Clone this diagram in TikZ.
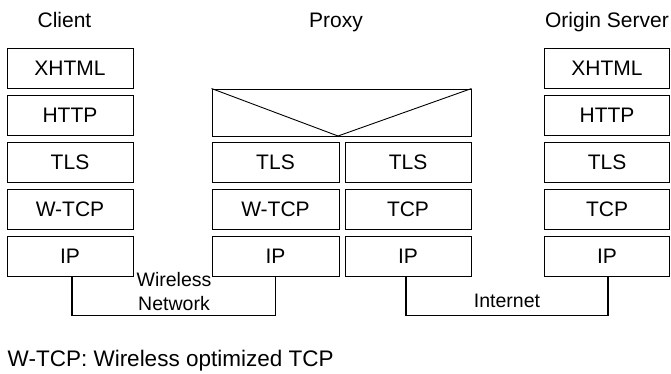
\documentclass[tikz,border=0pt]{standalone}
\usepackage{fontspec}
\setmainfont{Liberation Sans}
\usetikzlibrary{positioning,calc}

\begin{document}
\begin{tikzpicture}[x=1pt,y=-1pt,
    layer/.style={draw, line width=0.9pt, minimum height=40pt, inner sep=0pt,
        font=\fontsize{21}{24}\selectfont},
    title/.style={font=\fontsize{21}{24}\selectfont, anchor=base},
    netlabel/.style={font=\fontsize{19.5}{24}\selectfont},
    wire/.style={draw, line width=1.1pt}]
            \useasboundingbox (0,0) rectangle (671,373);
            % 見出し
            \node[title] (tc) at (64.5,27.5) {Client};
            \node[title] (tp) at (336,27.5) {Proxy};
            \node[title] (ts) at (607,27.5) {Origin Server};

            % クライアント
            \node[layer, minimum width=126pt] (cX) at (70,68) {XHTML};
            \node[layer, minimum width=126pt] (cH) at (70,115) {HTTP};
            \node[layer, minimum width=126pt] (cT) at (70,162) {TLS};
            \node[layer, minimum width=126pt] (cW) at (70,209) {W-TCP};
            \node[layer, minimum width=126pt] (cI) at (70,256) {IP};

            % プロキシ
            \node[layer, minimum width=259pt, minimum height=47pt] (pG) at (341.5,112.5) {};
            \path[draw, line width=0.9pt] (pG.north west) to (338,136) to (pG.north east);
            \node[layer, minimum width=127pt] (pTa) at (275.5,162) {TLS};
            \node[layer, minimum width=127pt] (pWa) at (275.5,209) {W-TCP};
            \node[layer, minimum width=127pt] (pIa) at (275.5,256) {IP};
            \node[layer, minimum width=126pt] (pTb) at (408,162) {TLS};
            \node[layer, minimum width=126pt] (pWb) at (408,209) {TCP};
            \node[layer, minimum width=126pt] (pIb) at (408,256) {IP};

            % サーバ
            \node[layer, minimum width=125pt] (sX) at (607,68) {XHTML};
            \node[layer, minimum width=125pt] (sH) at (607,115) {HTTP};
            \node[layer, minimum width=125pt] (sT) at (607,162) {TLS};
            \node[layer, minimum width=125pt] (sW) at (607,209) {TCP};
            \node[layer, minimum width=125pt] (sI) at (607,256) {IP};

            % ネットワーク
            \path[wire] ([xshift=2pt]cI.south) to ++(0,39) -| (pIa.south);
            \path[wire] ([xshift=-2pt]pIb.south) to ++(0,39) -| ([xshift=1pt]sI.south);
            \node[netlabel, align=center] (wn) at (174,292) {Wireless\\Network};
            \node[netlabel, anchor=base] (inet) at (507,307.5) {Internet};

            % 注
            \node[font=\fontsize{22.5}{26}\selectfont, anchor=base west, inner sep=0pt] (note) at (7.5,366) {W-TCP: Wireless optimized TCP};
        \end{tikzpicture}
\end{document}
